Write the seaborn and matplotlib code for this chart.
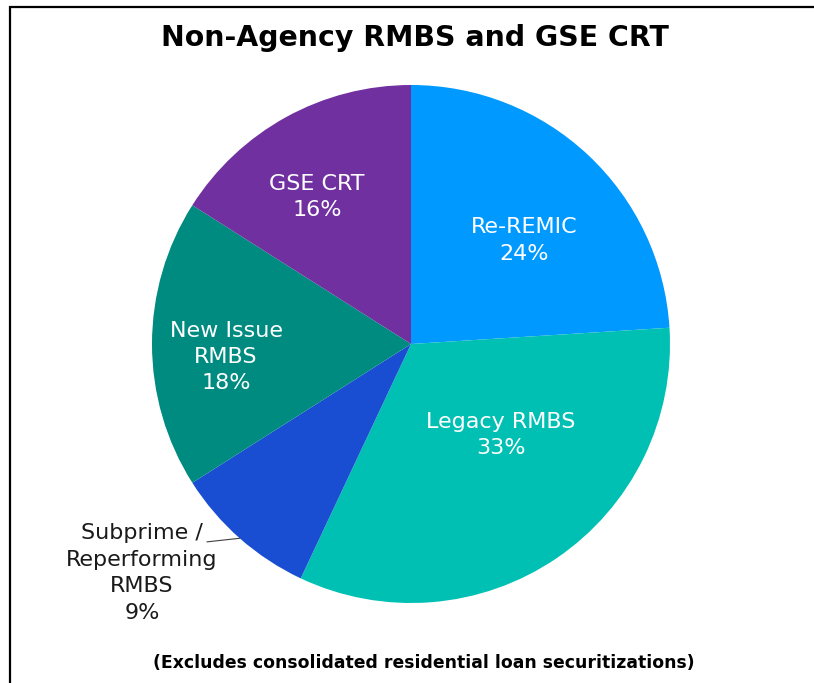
import matplotlib
matplotlib.use("Agg")
import matplotlib.pyplot as plt
import seaborn as sns
import numpy as np
from matplotlib.patches import Rectangle

sns.set_theme(style="white")
plt.rcParams['font.family'] = ['DejaVu Sans']

categories = ["Re-REMIC", "Legacy RMBS", "Subprime /\nReperforming\nRMBS", "New Issue\nRMBS", "GSE CRT"]
values = [24, 33, 9, 18, 16]
colors = ["#0099FF", "#00C0B4", "#1A4ED2", "#008B80", "#7030A0"]
label_pos = [(0.436, 0.40), (0.347, -0.351), (-1.039, -0.884), (-0.714, -0.050), (-0.363, 0.568)]
label_color = ["white", "white", "#1a1a1a", "white", "white"]

W, H = 814, 683
fig = plt.figure(figsize=(W / 100, H / 100), dpi=100)
fig.patch.set_facecolor("white")

# frame (cropped box)
fig.add_artist(Rectangle((10 / W, -0.1), 1.2, (H - 7) / H + 0.1, transform=fig.transFigure,
                         fill=False, edgecolor="black", linewidth=1.6))

cx, cy, r = 411, 344, 259
ax = fig.add_axes([(cx - r) / W, (H - cy - r) / H, 2 * r / W, 2 * r / H])
wedges, _ = ax.pie(values, colors=colors, startangle=90, counterclock=False, radius=1,
                   wedgeprops=dict(linewidth=0, edgecolor="none"))
ax.set_xlim(-1, 1)
ax.set_ylim(-1, 1)
ax.set_aspect("equal")
ax.axis("off")

for cat, v, (x, y), c in zip(categories, values, label_pos, label_color):
    ax.text(x, y, f"{cat}\n{v}%", ha="center", va="center", color=c, fontsize=16,
            linespacing=1.4)

# leader line for Subprime slice
cum = np.cumsum([0] + values)
i = 2
mid = 90 - (cum[i] + values[i] / 2) * 3.6
ex, ey = np.cos(np.radians(mid)), np.sin(np.radians(mid))
ax.plot([ex, -0.788], [ey, -0.764], color="#404040", lw=0.8, clip_on=False)

fig.text(415 / W, 1 - 38 / H, "Non-Agency RMBS and GSE CRT", ha="center", va="center",
         fontsize=20.4, fontweight="bold", color="black")
fig.text(424 / W, 1 - 663 / H, "(Excludes consolidated residential loan securitizations)",
         ha="center", va="center", fontsize=12.4, fontweight="bold", color="black")

fig.savefig("out.png", dpi=100)
